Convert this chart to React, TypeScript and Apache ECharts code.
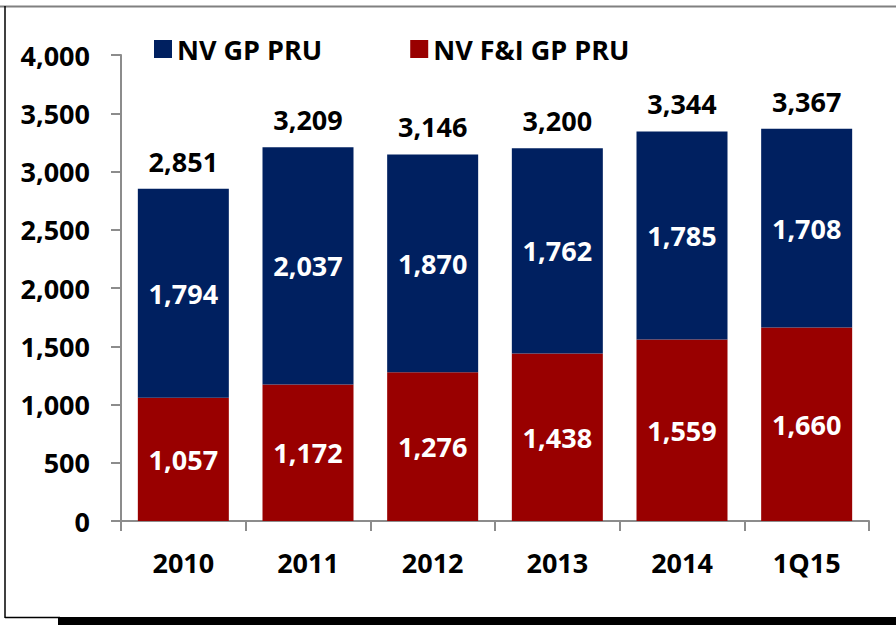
import React, { useEffect, useRef } from "react";
import * as echarts from "echarts";

const categories = ["2010", "2011", "2012", "2013", "2014", "1Q15"];
const fiValues = [1057, 1172, 1276, 1438, 1559, 1660];
const gpValues = [1794, 2037, 1870, 1762, 1785, 1708];
const totals = [2851, 3209, 3146, 3200, 3344, 3367];
const seriesNames = ["NV GP PRU", "NV F&I GP PRU"];

const FONT = "'Open Sans', 'Noto Sans', sans-serif";
const fmt = (v: number) => Number(v).toLocaleString("en-US");

export default function App() {
  const ref = useRef<HTMLDivElement>(null);
  useEffect(() => {
    if (!ref.current) return;
    const chart = echarts.init(ref.current, null, { renderer: "svg" });
    const labelStyle = {
      show: true,
      position: "inside" as const,
      color: "#ffffff",
      fontFamily: FONT,
      fontWeight: "bold" as const,
      fontSize: 27,
      formatter: (p: any) => fmt(p.value),
    };
    chart.setOption({
      animation: false,
      backgroundColor: "#ffffff",
      grid: { left: 121, right: 27, top: 55, bottom: 104, containLabel: false },
      legend: {
        data: [seriesNames[0], seriesNames[1]],
        left: 154,
        top: 35,
        padding: 0,
        itemWidth: 18,
        itemHeight: 18,
        itemGap: 88,
        icon: "rect",
        textStyle: {
          fontFamily: FONT,
          fontWeight: "bold",
          fontSize: 27,
          color: "#000",
          lineHeight: 28,
        },
      },
      xAxis: {
        type: "category",
        data: categories,
        axisLine: { lineStyle: { color: "#8c8c8c", width: 2 } },
        axisTick: { show: true, length: 10, lineStyle: { color: "#8c8c8c", width: 2 } },
        axisLabel: {
          margin: 28,
          fontFamily: FONT,
          fontWeight: "bold",
          fontSize: 27,
          color: "#000",
        },
      },
      yAxis: {
        type: "value",
        min: 0,
        max: 4000,
        interval: 500,
        splitLine: { show: false },
        axisLine: { show: true, lineStyle: { color: "#8c8c8c", width: 2 } },
        axisTick: { show: true, length: 10, lineStyle: { color: "#8c8c8c", width: 2 } },
        axisLabel: {
          margin: 31,
          fontFamily: FONT,
          fontWeight: "bold",
          fontSize: 27,
          color: "#000",
          formatter: (v: number) => fmt(v),
        },
      },
      series: [
        {
          name: seriesNames[1],
          type: "bar",
          stack: "total",
          data: fiValues,
          barWidth: 91,
          barGap: "-100%",
          itemStyle: { color: "#990000" },
          label: labelStyle,
          z: 2,
        },
        {
          name: seriesNames[0],
          type: "bar",
          stack: "total",
          data: gpValues,
          barWidth: 91,
          barGap: "-100%",
          itemStyle: { color: "#002060" },
          label: labelStyle,
          z: 2,
        },
        {
          name: "Total",
          type: "bar",
          data: totals,
          barWidth: 91,
          barGap: "-100%",
          itemStyle: { color: "rgba(0,0,0,0)" },
          label: {
            show: true,
            position: "top",
            distance: 14,
            color: "#000",
            fontFamily: FONT,
            fontWeight: "bold",
            fontSize: 27,
            formatter: (p: any) => fmt(p.value),
          },
          z: 1,
          silent: true,
        },
      ],
      graphic: [
        { type: "line", shape: { x1: 0, y1: 6.5, x2: 896, y2: 6.5 }, style: { stroke: "#808080", lineWidth: 2 } },
        { type: "line", shape: { x1: 5, y1: 6, x2: 5, y2: 618 }, style: { stroke: "#000", lineWidth: 1.5 } },
        { type: "line", shape: { x1: 5, y1: 617.5, x2: 60, y2: 617.5 }, style: { stroke: "#000", lineWidth: 1.5 } },
        { type: "rect", shape: { x: 58, y: 617, width: 838, height: 8 }, style: { fill: "#000" } },
      ],
    });
    return () => chart.dispose();
  }, []);
  return (
    <div
      ref={ref}
      style={{ position: "fixed", left: 0, top: 0, width: 896, height: 625 }}
    />
  );
}
